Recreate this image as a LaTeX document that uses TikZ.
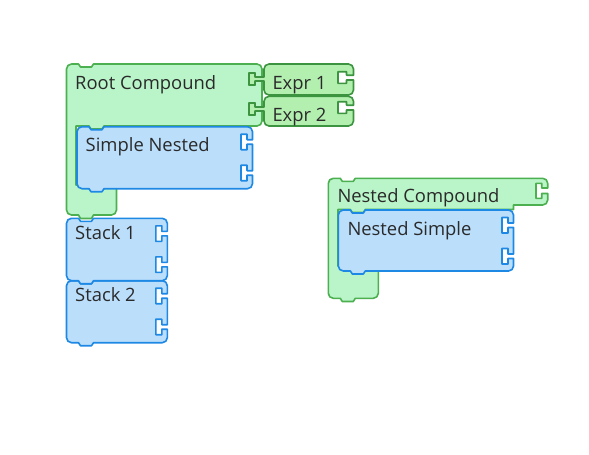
\documentclass[tikz,border=0pt]{standalone}
\usepackage{fontspec}
\setmainfont{Open Sans}
\definecolor{stmtfill}{HTML}{BBDEFB}
\definecolor{stmtline}{HTML}{1E88E5}
\definecolor{cmpfill}{HTML}{B9F5C8}
\definecolor{cmpline}{HTML}{4CAF50}
\definecolor{exprfill}{HTML}{B3F0B0}
\definecolor{exprline}{HTML}{3C9440}
\definecolor{labelink}{HTML}{2A2A2A}
% rounded corners (radius 5) inserted into a path; y grows downwards
\tikzset{
  ctl/.style 2 args={insert path={-- (#1,{#2+5}) .. controls (#1,{#2+2.24}) and ({#1+2.24},#2) .. ({#1+5},#2)}},
  ctr/.style 2 args={insert path={-- ({#1-5},#2) .. controls ({#1-2.24},#2) and (#1,{#2+2.24}) .. (#1,{#2+5})}},
  cbr/.style 2 args={insert path={-- (#1,{#2-5}) .. controls (#1,{#2-2.24}) and ({#1-2.24},#2) .. ({#1-5},#2)}},
  cbl/.style 2 args={insert path={-- ({#1+5},#2) .. controls ({#1+2.24},#2) and (#1,{#2-2.24}) .. (#1,{#2-5})}},
  stmtblk/.style={fill=stmtfill, draw=stmtline, line width=1.6pt, line join=round},
  cmpblk/.style={fill=cmpfill, draw=cmpline, line width=1.6pt, line join=round},
  exprblk/.style={fill=exprfill, draw=exprline, line width=1.6pt, line join=round},
  lbl/.style={anchor=base west, inner sep=0pt, text=labelink, font=\fontsize{18.4}{22}\selectfont},
}
% statement block: left, top, right, bottom
\newcommand\stmtblock[4]{%
  \draw[stmtblk] (#1,{#2+10}) [ctl={#1}{#2}]
    -- ({#1+12},#2) -- ({#1+14},{#2+3}) -- ({#1+25},{#2+3}) -- ({#1+27},#2)
    [ctr={#3}{#2}]
    -- (#3,{#2+13}) -- ({#3-5.5},{#2+13}) -- ({#3-5.5},{#2+7.5}) -- ({#3-11.5},{#2+7.5})
    -- ({#3-11.5},{#2+23}) -- ({#3-5.5},{#2+23}) -- ({#3-5.5},{#2+17.5}) -- (#3,{#2+17.5})
    -- (#3,{#2+44}) -- ({#3-5.5},{#2+44}) -- ({#3-5.5},{#2+38.5}) -- ({#3-11.5},{#2+38.5})
    -- ({#3-11.5},{#2+54}) -- ({#3-5.5},{#2+54}) -- ({#3-5.5},{#2+48.5}) -- (#3,{#2+48.5})
    [cbr={#3}{#4}]
    -- ({#1+27},#4) -- ({#1+25},{#4+3}) -- ({#1+14},{#4+3}) -- ({#1+12},#4)
    [cbl={#1}{#4}] -- cycle;}
% value block: top, bottom, top of the output tab
\newcommand\exprblock[3]{%
  \draw[exprblk] (264,{#1+8}) [ctl={264}{#1}] [ctr={353.5}{#1}]
    -- (353.5,{#3+2.2}) -- (346.5,{#3+2.2}) -- (346.5,{#3-1.3}) -- (338,{#3-1.3})
    -- (338,{#3+10.3}) -- (346.5,{#3+10.3}) -- (346.5,{#3+7}) -- (353.5,{#3+7})
    [cbr={353.5}{#2}] [cbl={264}{#2}]
    -- (264,{#3+8}) -- (255,{#3+8}) -- (255,{#3+12}) -- (249,{#3+12})
    -- (249,#3) -- (255,#3) -- (255,{#3+4}) -- (264,{#3+4}) -- cycle;}
\begin{document}
\begin{tikzpicture}[x=1pt,y=-1pt]
\fill[white] (0,0) rectangle (589,455);
\useasboundingbox (0,0) rectangle (589,455);

% Root Compound with its statement input
\draw[cmpblk] (66.5,80) [ctl={66.5}{64}]
  -- (78.5,64) -- (80.5,67) -- (91.5,67) -- (93.5,64)
  [ctr={262}{64}]
  -- (262,77) -- (255,77) -- (255,73) -- (249,73) -- (249,85) -- (255,85) -- (255,81) -- (262,81)
  -- (262,107) -- (255,107) -- (255,103) -- (249,103) -- (249,115) -- (255,115) -- (255,111) -- (262,111)
  [cbr={262}{126}]
  -- (104,126) -- (102,129) -- (91,129) -- (89,126) -- (76,126) -- (76,185) -- (116.5,185)
  [cbr={116.5}{215}]
  -- (93.5,215) -- (91.5,218.5) -- (80.5,218.5) -- (78.5,215)
  [cbl={66.5}{215}] -- cycle;

% value inputs
\exprblock{64}{95}{73}
\exprblock{96.3}{126}{103}

% nested statement and the stack below
\stmtblock{77}{126.7}{252.5}{188.7}
\stmtblock{66.5}{280.7}{167.3}{342.7}
\stmtblock{66.5}{218.3}{167.3}{280.7}

% Nested Compound
\draw[cmpblk] (328.3,190) [ctl={328.3}{178.3}]
  -- (340.3,178.3) -- (342.3,181.3) -- (353.3,181.3) -- (355.3,178.3)
  [ctr={547.7}{178.3}]
  -- (547.7,188) -- (541.7,188) -- (541.7,183.3) -- (536,183.3) -- (536,198.3) -- (541.7,198.3) -- (541.7,193.5) -- (547.7,193.5)
  [cbr={547.7}{205}]
  -- (513.5,205) -- (513.5,209.5) -- (365.3,209.5) -- (363.3,212.5) -- (352.3,212.5) -- (350.3,209.5)
  -- (338,209.5) -- (338,266) -- (378.3,266)
  [cbr={378.3}{298.3}]
  -- (355.3,298.3) -- (353.3,301.5) -- (342.3,301.5) -- (340.3,298.3)
  [cbl={328.3}{298.3}] -- cycle;
\stmtblock{338.3}{210}{513.5}{271}

% labels
\node[lbl] (rootlbl) at (75,89) {Root Compound};
\node[lbl] (expr1lbl) at (272.3,89.3) {Expr 1};
\node[lbl] (expr2lbl) at (272.3,121) {Expr 2};
\node[lbl] (simplelbl) at (85.5,151.7) {Simple Nested};
\node[lbl] (stack1lbl) at (75,239.3) {Stack 1};
\node[lbl] (stack2lbl) at (75,301.7) {Stack 2};
\node[lbl] (nestcmplbl) at (337.3,202.3) {Nested Compound};
\node[lbl] (nestsimlbl) at (347.3,235.7) {Nested Simple};
\end{tikzpicture}
\end{document}
